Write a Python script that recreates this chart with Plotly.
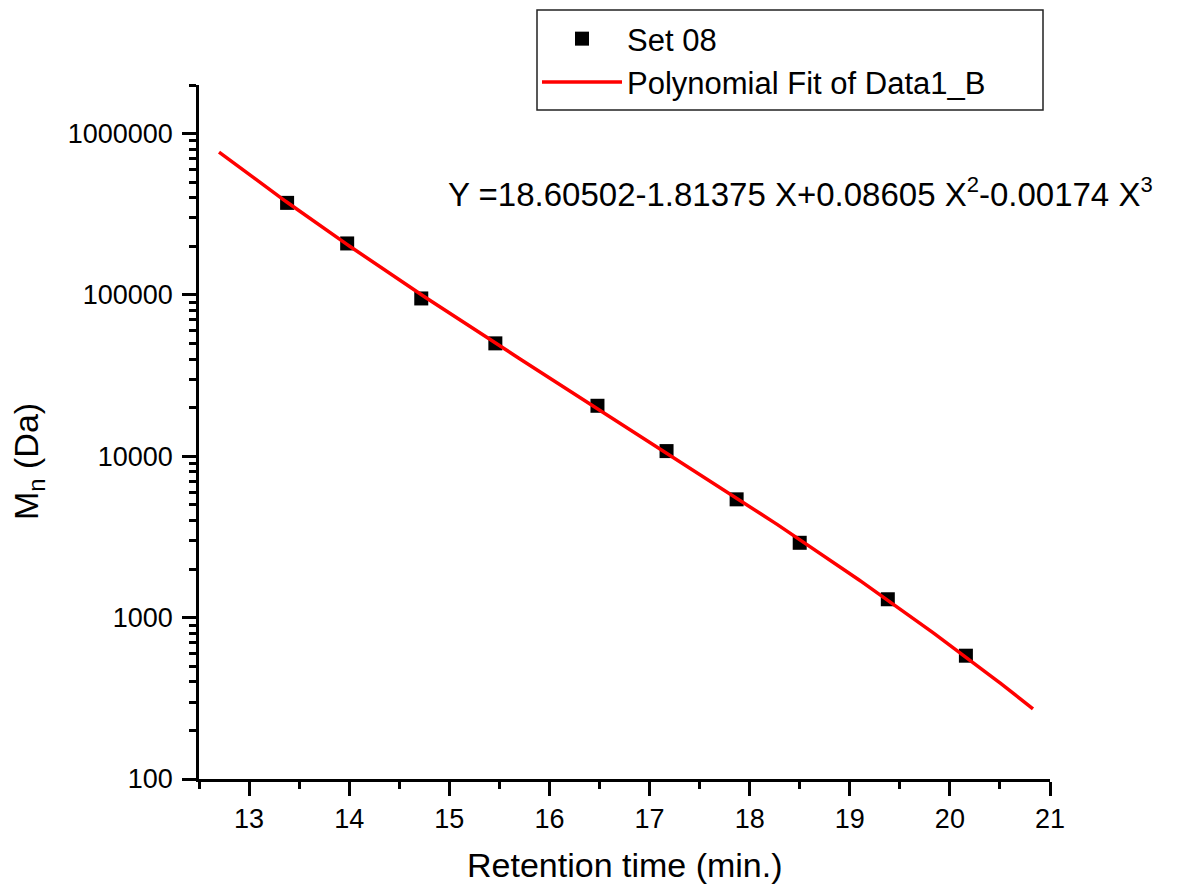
import numpy as np
import plotly.graph_objects as go

# Measured calibration points (retention time in min, number-average molar mass in Da)
retention_time = [13.38, 13.98, 14.72, 15.46, 16.48, 17.17, 17.87, 18.50, 19.38, 20.16]
mn_da = [372000, 208500, 95100, 50100, 20560, 10770, 5410, 2910, 1300, 581]

# Cubic fit of log10(Mn) vs retention time: c0 + c1*X + c2*X^2 + c3*X^3
fit_coeffs = [18.60502, -1.81375, 0.08605, -0.00174]
fit_span = [12.70, 20.83]

y_major = [100, 1000, 10000, 100000, 1000000]
y_major_text = ["100", "1000", "10000", "100000", "1000000"]
y_minor = [m * 10 ** e for e in range(2, 7) for m in range(2, 10) if m * 10 ** e <= 2000000]

x_major = list(range(13, 22))

FONT = "Liberation Sans, Arial, sans-serif"

fit_x = np.linspace(fit_span[0], fit_span[1], 300)
fit_logy = sum(c * fit_x ** i for i, c in enumerate(fit_coeffs))
fit_y = 10 ** fit_logy

fig = go.Figure()
fig.add_trace(go.Scatter(
    x=retention_time, y=mn_da, mode="markers", name="Set 08",
    marker=dict(symbol="square", size=14, color="black", line=dict(width=0)),
))
fig.add_trace(go.Scatter(
    x=fit_x, y=fit_y, mode="lines", name="Polynomial Fit of Data1_B",
    line=dict(color="#ff0000", width=3.5),
))

# plot area geometry (pixels)
L, R, T, B = 199, 1050, 85, 779
W, H = 1190, 886


def px(xp):
    return (xp - L) / (R - L)


def py(yp):
    return (B - yp) / (B - T)


sup = '<sup><span style="font-size:22px">{}</span></sup>'
equation = ("Y =18.60502-1.81375 X+0.08605 X" + sup.format("2")
            + "-0.00174 X" + sup.format("3"))

fig.update_layout(
    width=W, height=H,
    margin=dict(l=L, r=W - R, t=T, b=H - B),
    paper_bgcolor="white", plot_bgcolor="white",
    font=dict(family=FONT, color="black", size=27),
    showlegend=True,
    legend=dict(
        x=px(537), y=py(12), xanchor="left", yanchor="top",
        bgcolor="rgba(0,0,0,0)", borderwidth=0,
        font=dict(family=FONT, size=31, color="black"),
        itemwidth=80, tracegroupgap=0,
    ),
    xaxis=dict(
        range=[12.5, 21], showgrid=False, zeroline=False,
        showline=True, linecolor="black", linewidth=2.5,
        tickmode="array", tickvals=x_major,
        ticks="outside", ticklen=14, tickwidth=2.5, tickcolor="black",
        tickfont=dict(family=FONT, size=27, color="black"),
        minor=dict(dtick=0.5, tick0=12.5, ticks="outside", ticklen=7,
                   tickwidth=2.5, tickcolor="black"),
    ),
    yaxis=dict(
        type="log", range=[2, np.log10(2000000)], showgrid=False, zeroline=False,
        showline=True, linecolor="black", linewidth=2.5,
        tickmode="array", tickvals=y_major, ticktext=y_major_text,
        ticks="outside", ticklen=14, tickwidth=2.5, tickcolor="black",
        tickfont=dict(family=FONT, size=27, color="black"),
        ticklabelstandoff=4,
        minor=dict(tickmode="array", tickvals=y_minor, ticks="outside",
                   ticklen=7, tickwidth=2.5, tickcolor="black"),
    ),
    shapes=[dict(
        type="rect", xref="paper", yref="paper",
        x0=px(537), x1=px(1043), y0=py(110), y1=py(10),
        line=dict(color="#222222", width=1.5), fillcolor="rgba(0,0,0,0)",
    )],
    annotations=[
        dict(text="Retention time (min.)", xref="paper", yref="paper",
             x=px(625), y=py(865), xanchor="center", yanchor="middle",
             showarrow=False, font=dict(family=FONT, size=34, color="black")),
        dict(text="M<sub>n</sub> (Da)", xref="paper", yref="paper",
             x=px(28), y=py(462), xanchor="center", yanchor="middle",
             textangle=-90, showarrow=False,
             font=dict(family=FONT, size=34, color="black")),
        dict(text=equation,
             xref="paper", yref="paper", x=px(446), y=py(193),
             xanchor="left", yanchor="middle", showarrow=False,
             font=dict(family=FONT, size=33, color="black")),
    ],
)

fig.write_html("out.html")
